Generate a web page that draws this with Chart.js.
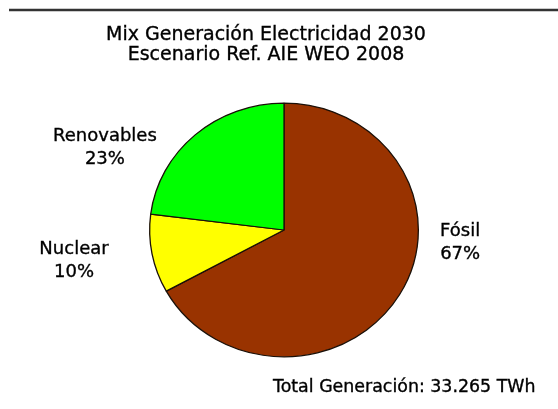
<!DOCTYPE html>
<html>
<head>
<meta charset="utf-8">
<script src="https://cdn.jsdelivr.net/npm/chart.js@4/dist/chart.umd.min.js"></script>
<style>
  html, body { margin: 0; padding: 0; background: #fff; }
  #pieChart { display: block; }
</style>
</head>
<body>
<canvas id="pieChart" width="558" height="409"></canvas>
<script>
const title_lines = ['Mix Generación Electricidad 2030', 'Escenario Ref. AIE WEO 2008'];
const labels = ['Fósil', 'Nuclear', 'Renovables'];
const values = [67, 10, 23];
const colors = ['#993300', '#ffff00', '#00ff00'];
const total_text = 'Total Generación: 33.265 TWh';

// squash the pie a bit vertically, like the original
const ellipse = {
    id: 'ellipse',
    beforeDatasetsDraw(chart) {
        const arc = chart.getDatasetMeta(0).data[0];
        const ctx = chart.ctx;
        ctx.save();
        ctx.translate(arc.x, arc.y);
        ctx.scale(1, 0.944);
        ctx.translate(-arc.x, -arc.y);
    },
    afterDatasetsDraw(chart) {
        chart.ctx.restore();
    }
};

// texts: title, slice labels, total, top rule
const texts = {
    id: 'texts',
    afterDraw(chart, args, opts) {
        const ctx = chart.ctx;
        const arc = chart.getDatasetMeta(0).data[0];
        const r = arc.outerRadius;
        ctx.save();

        ctx.strokeStyle = '#333';
        ctx.lineWidth = 2.5;
        ctx.beginPath();
        ctx.moveTo(9, 10);
        ctx.lineTo(558, 10);
        ctx.stroke();

        ctx.fillStyle = '#000';
        ctx.strokeStyle = '#000';
        ctx.lineWidth = 0.35;
        ctx.textAlign = 'center';
        ctx.textBaseline = 'middle';
        const put = (t, x, y) => { ctx.fillText(t, x, y); ctx.strokeText(t, x, y); };

        ctx.font = '19px "DejaVu Sans"';
        title_lines.forEach((t, i) => put(t, 266, 35 + i * 20.5));

        ctx.font = '18px "DejaVu Sans"';
        const sum = values.reduce((a, b) => a + b, 0);
        labels.forEach((lab, i) => {
            const off = opts.offsets[i];
            const x = arc.x + off[0] * r;
            const y = arc.y + off[1] * r;
            put(lab, x, y - 11.5);
            put(Math.round(values[i] / sum * 100) + '%', x, y + 11.5);
        });

        ctx.font = '17.4px "DejaVu Sans"';
        ctx.textAlign = 'left';
        put(total_text, 273, 387);
        ctx.restore();
    }
};

new Chart(
    document.getElementById('pieChart'),
    {
        type: 'pie',
        data: {
            labels: labels,
            datasets: [{
                data: values,
                backgroundColor: colors,
                borderColor: '#1a1008',
                borderWidth: 1.3
            }]
        },
        options: {
            responsive: false,
            animation: false,
            layout: {
                padding: { left: 149, right: 139, top: 95, bottom: 44 }
            },
            plugins: {
                legend: { display: false },
                tooltip: { enabled: false },
                texts: {
                    offsets: [[1.311, 0.093], [-1.563, 0.233], [-1.333, -0.611]]
                }
            }
        },
        plugins: [ellipse, texts]
    }
);
</script>
</body>
</html>
